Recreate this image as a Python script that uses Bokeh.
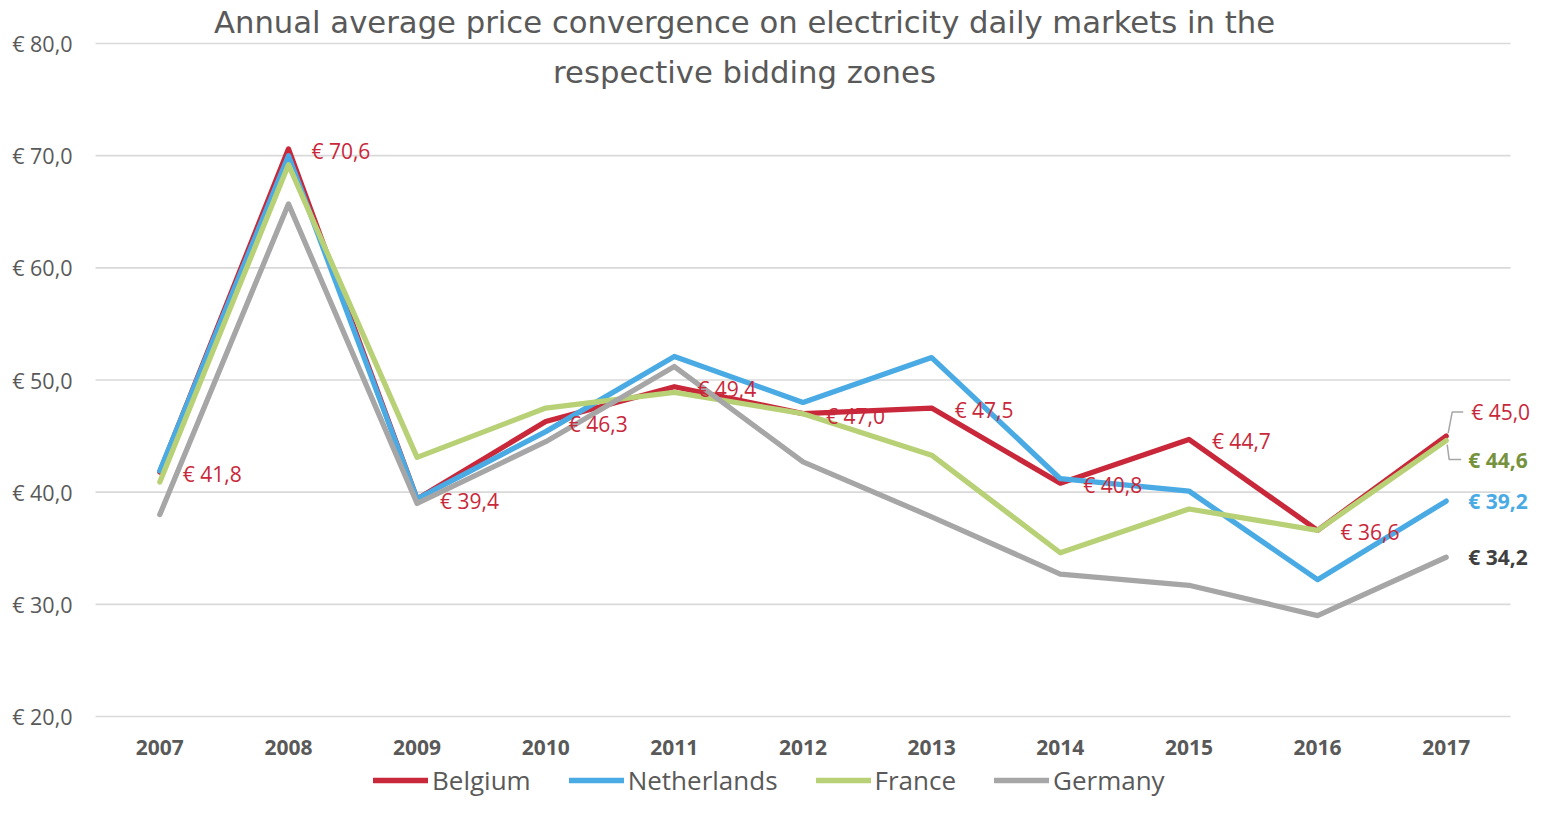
from bokeh.plotting import figure
from bokeh.models import (ColumnDataSource, FixedTicker, Label, LabelSet, Legend,
                          LegendItem, Range1d)
from bokeh.core.properties import value
from bokeh.embed import file_html
from bokeh.resources import INLINE

# ---------------- data ----------------
years = [2007, 2008, 2009, 2010, 2011, 2012, 2013, 2014, 2015, 2016, 2017]
belgium = [41.8, 70.6, 39.4, 46.3, 49.4, 47.0, 47.5, 40.8, 44.7, 36.6, 45.0]
netherlands = [41.9, 70.0, 39.4, 45.4, 52.1, 48.0, 52.0, 41.2, 40.1, 32.2, 39.2]
france = [40.9, 69.2, 43.1, 47.5, 48.9, 47.0, 43.3, 34.6, 38.5, 36.6, 44.6]
germany = [38.0, 65.7, 39.0, 44.5, 51.2, 42.7, 37.8, 32.7, 31.7, 29.0, 34.2]
series_names = ["Belgium", "Netherlands", "France", "Germany"]
y_ticks = [20, 30, 40, 50, 60, 70, 80]
title_lines = ["Annual average price convergence on electricity daily markets in the",
               "respective bidding zones"]

# ---------------- style / layout ----------------
RED = "#C8283A"
BLUE = "#4AABE4"
GREEN = "#B8D176"
GRAY = "#A6A6A6"
TXT = "#595959"
FONT = "Open Sans"
TFONT = "DejaVu Sans"

W, H = 1532, 799
# plot area (in canvas pixels) where the category band and value axis live
AX_L, AX_R, AX_T, AX_B = 95, 1510, 43, 716


def euro(v):
    return ("€ %.1f" % v).replace(".", ",")


x_lo, x_hi = years[0] - 0.5, years[-1] + 0.5
y_lo, y_hi = y_ticks[0], y_ticks[-1]
sx = (AX_R - AX_L) / (x_hi - x_lo)
sy = (AX_B - AX_T) / (y_hi - y_lo)
x_range = Range1d(x_lo - AX_L / sx, x_hi + (W - AX_R) / sx)
y_range = Range1d(y_lo - (H - AX_B) / sy, y_hi + AX_T / sy)

p = figure(width=W, height=H, output_backend="svg", toolbar_location=None,
           x_range=x_range, y_range=y_range,
           min_border_left=0, min_border_right=0,
           min_border_top=0, min_border_bottom=0)
p.outline_line_color = None
p.background_fill_color = "white"
p.border_fill_color = "white"
p.xgrid.visible = False
p.ygrid.visible = False

# axes, fixed at the plot-area edges
p.xaxis.fixed_location = y_lo
p.yaxis.fixed_location = x_lo
p.xaxis.ticker = FixedTicker(ticks=years)
p.xaxis.major_label_overrides = {y: str(y) for y in years}
p.xaxis.major_label_text_font_style = "bold"
p.xaxis.major_label_text_font = FONT
p.xaxis.major_label_text_font_size = "21px"
p.xaxis.major_label_text_color = TXT
p.xaxis.major_label_standoff = 17
p.yaxis.ticker = FixedTicker(ticks=y_ticks)
p.yaxis.major_label_overrides = {t: euro(t) for t in y_ticks}
p.yaxis.major_label_text_font = FONT
p.yaxis.major_label_text_font_size = "21.5px"
p.yaxis.major_label_text_color = TXT
p.yaxis.major_label_standoff = 17
for ax in (p.xaxis, p.yaxis):
    ax.axis_line_color = None
    ax.major_tick_line_color = None
    ax.minor_tick_line_color = None

# horizontal gridlines across the plot area only
p.segment(x0=[x_lo] * len(y_ticks), x1=[x_hi] * len(y_ticks), y0=y_ticks, y1=y_ticks,
          line_color="#D9D9D9", line_width=1.6)

# lines
series = [belgium, netherlands, france, germany]
colors = [RED, BLUE, GREEN, GRAY]
renderers = []
for name, vals, col in zip(series_names, series, colors):
    r = p.line(years, vals, line_color=col, line_width=5.3, line_cap="round",
               line_join="round")
    renderers.append(r)

# Belgium data labels (all but last)
src = ColumnDataSource(dict(x=years[:-1], y=belgium[:-1],
                            t=[euro(v) for v in belgium[:-1]]))
p.add_layout(LabelSet(x="x", y="y", text="t", source=src, x_offset=23, y_offset=-2,
                      text_baseline="middle", text_font=value(FONT),
                      text_font_size="21px", text_color=RED))

# end labels 2017
end_specs = [
    (belgium[-1], 25, 24, RED, "normal"),
    (france[-1], 22, -19, "#76923C", "bold"),
    (netherlands[-1], 22, 0, BLUE, "bold"),
    (germany[-1], 22, 0, "#404040", "bold"),
]
for v, dx, dy, col, fs in end_specs:
    p.add_layout(Label(x=years[-1], y=v, x_offset=dx, y_offset=dy, text=euro(v),
                       text_baseline="middle", text_font=FONT, text_font_size="21px",
                       text_color=col, text_font_style=fs))

# leader lines for the two overlapping end labels
xb = years[-1]
lead_x = [
    [xb + 17 / sx, xb + 6 / sx, xb + 2 / sx],
    [xb + 1 / sx, xb + 3 / sx, xb + 15 / sx],
]
lead_y = [
    [belgium[-1] + 24 / sy, belgium[-1] + 24 / sy, belgium[-1] + 3 / sy],
    [france[-1] - 4 / sy, france[-1] - 19 / sy, france[-1] - 19 / sy],
]
p.multi_line(lead_x, lead_y, line_color=GRAY, line_width=1.5)

# title (two lines, centred on x = 744 px)
for i, (line, yc) in enumerate(zip(title_lines, [22, 72])):
    p.add_layout(Label(x=744, y=H - yc, x_units="screen", y_units="screen",
                       text=line, text_align="center", text_baseline="middle",
                       text_font=TFONT, text_font_size="30.7px", text_color=TXT))

# legend
legend = Legend(items=[LegendItem(label=n, renderers=[r])
                       for n, r in zip(series_names, renderers)],
                location=(373, 1), orientation="horizontal",
                glyph_width=55, glyph_height=26, label_standoff=4, spacing=38,
                padding=0, margin=0, border_line_color=None,
                background_fill_alpha=0,
                label_text_font=FONT, label_text_font_size="26px",
                label_text_color=TXT, label_text_baseline="middle")
p.add_layout(legend)

open("out.html", "w").write(file_html(p, INLINE))
